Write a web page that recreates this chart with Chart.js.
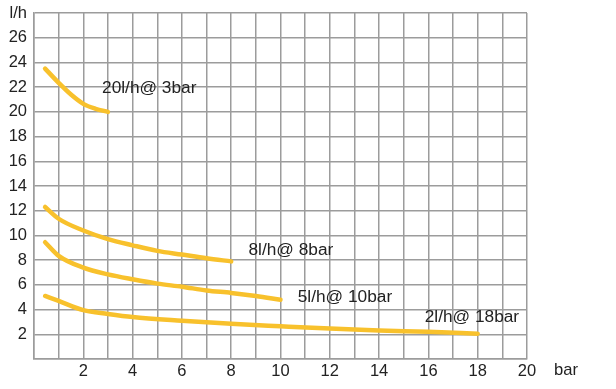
<!DOCTYPE html>
<html>
<head>
<meta charset="utf-8">
<script src="https://cdn.jsdelivr.net/npm/chart.js@4"></script>
<style>
  html, body { margin: 0; padding: 0; background: #fff; }
  #wrap { width: 616px; height: 389px; }
</style>
</head>
<body>
<div id="wrap"><canvas id="myChart" width="616" height="389"></canvas></div>
<script>
// curve data (pressure in bar, flow in l/h)
var bar20 = [0.45, 1, 1.5, 2, 2.5, 3];
var flow20 = [23.5, 22.35, 21.4, 20.65, 20.25, 20.0];

var bar8 = [0.45, 1, 2, 3, 4, 5, 6, 7, 8];
var flow8 = [12.3, 11.35, 10.4, 9.7, 9.2, 8.75, 8.45, 8.15, 7.9];

var bar5 = [0.45, 1, 2, 3, 4, 5, 6, 7, 8, 9, 10];
var flow5 = [9.45, 8.35, 7.4, 6.85, 6.45, 6.1, 5.85, 5.55, 5.35, 5.1, 4.8];

var bar2 = [0.45, 1, 2, 3, 4, 6, 8, 10, 12, 14, 16, 18];
var flow2 = [5.1, 4.7, 3.95, 3.65, 3.4, 3.1, 2.85, 2.65, 2.46, 2.3, 2.2, 2.05];

var curveLabels = ['20l/h@ 3bar', '8l/h@ 8bar', '5l/h@ 10bar', '2l/h@ 18bar'];
var labelX = [2.76, 8.7, 10.7, 15.85];
var labelY = [21.95, 8.8, 5.0, 3.4];

var xTitle = 'bar';
var yTitle = 'l/h';

var lineColor = '#f8c12c';
var gridColor = '#9c9c9c';
var fontFamily = '"Liberation Sans", Arial, sans-serif';

function toPoints(xs, ys) {
  return xs.map(function (x, i) { return { x: x, y: ys[i] }; });
}

function curve(xs, ys) {
  return {
    data: toPoints(xs, ys),
    borderColor: lineColor,
    borderWidth: 4.5,
    pointRadius: 0,
    cubicInterpolationMode: 'monotone',
    borderCapStyle: 'round',
    fill: false
  };
}

var textPlugin = {
  id: 'curveText',
  afterDraw: function (chart) {
    var ctx = chart.ctx;
    var xs = chart.scales.x, ys = chart.scales.y;
    ctx.save();
    ctx.fillStyle = '#222';
    ctx.font = '17.3px ' + fontFamily;
    ctx.textAlign = 'left';
    ctx.textBaseline = 'middle';
    curveLabels.forEach(function (t, i) {
      ctx.fillText(t, xs.getPixelForValue(labelX[i]), ys.getPixelForValue(labelY[i]));
    });
    ctx.font = '16.6px ' + fontFamily;
    ctx.fillText(xTitle, xs.getPixelForValue(21.1), ys.getPixelForValue(-0.92));
    ctx.restore();
  }
};

window.onload = function () {
  var config = {
    type: 'line',
    data: {
      datasets: [curve(bar20, flow20), curve(bar8, flow8), curve(bar5, flow5), curve(bar2, flow2)]
    },
    options: {
      responsive: false,
      animation: false,
      layout: { padding: { top: 3, right: 89, bottom: 0, left: 0 } },
      plugins: { legend: { display: false }, tooltip: { enabled: false } },
      scales: {
        x: {
          type: 'linear',
          min: 0,
          max: 20,
          afterFit: function (s) { s.height = 30; },
          grid: { color: gridColor, lineWidth: 1.5, drawTicks: false },
          border: { color: gridColor, width: 1.5 },
          ticks: {
            stepSize: 1,
            autoSkip: false,
            maxRotation: 0,
            padding: 3,
            color: '#222',
            font: { family: fontFamily, size: 16.5 },
            callback: function (v) { return (v > 0 && v % 2 === 0) ? String(v) : ''; }
          }
        },
        y: {
          min: 0,
          max: 28,
          afterFit: function (s) { s.width = 34; s.paddingTop = 13; },
          grid: { color: gridColor, lineWidth: 1.5, drawTicks: false },
          border: { color: gridColor, width: 1.5 },
          ticks: {
            stepSize: 2,
            padding: 7,
            color: '#222',
            font: { family: fontFamily, size: 16.5 },
            callback: function (v) {
              if (v === 28) return yTitle;
              if (v === 0) return '';
              return String(v);
            }
          }
        }
      }
    },
    plugins: [textPlugin]
  };
  var myChart = new Chart(document.getElementById('myChart'), config);
};
</script>
</body>
</html>
